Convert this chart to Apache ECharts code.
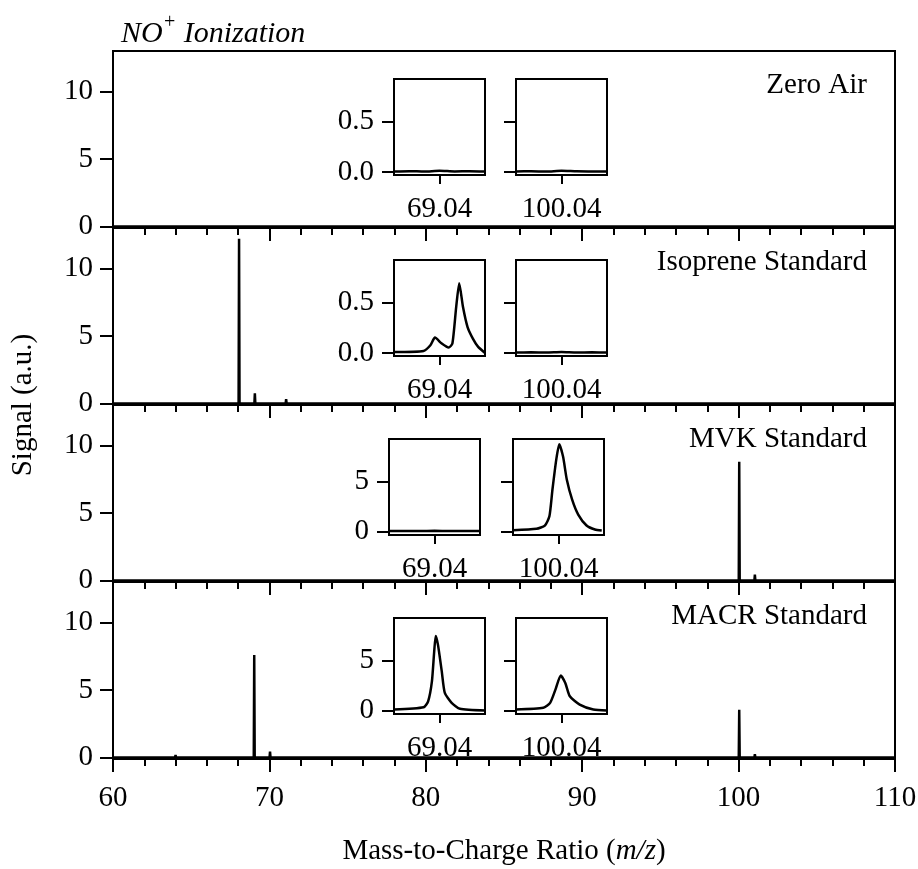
<!DOCTYPE html>
<html>
<head>
<meta charset="utf-8" />
<title>NO+ Ionization</title>
<script src="https://cdn.jsdelivr.net/npm/echarts@6.0.0/dist/echarts.min.js"></script>
<style>
  html, body { margin: 0; padding: 0; background: #fff; }
</style>
</head>
<body>
<div id="grafico" style="width: 918px; height: 869px"></div>
<script>
// panel names, top to bottom
const panelNames = ["Zero Air", "Isoprene Standard", "MVK Standard", "MACR Standard"];

// main spectra [m/z, signal]
const zeroAirSpec = [[60, 0.02], [63.97, 0.02], [64.0, 0.1], [64.03, 0.02], [110, 0.02]];
const isopreneSpec = [
  [60, 0.02], [63.97, 0.02], [64.0, 0.12], [64.03, 0.02],
  [67.02, 0.02], [67.05, 0.15], [67.08, 0.02],
  [68.03, 0.02], [68.06, 12.2], [68.09, 0.02],
  [69.04, 0.02], [69.07, 0.76], [69.1, 0.02],
  [70.04, 0.02], [70.07, 0.15], [70.1, 0.02],
  [71.04, 0.02], [71.07, 0.34], [71.1, 0.02],
  [110, 0.02]
];
const mvkSpec = [
  [60, 0.02], [63.97, 0.02], [64.0, 0.12], [64.03, 0.02],
  [100.01, 0.02], [100.04, 8.8], [100.07, 0.02],
  [101.01, 0.02], [101.04, 0.45], [101.07, 0.02],
  [110, 0.02]
];
const macrSpec = [
  [60, 0.02], [63.97, 0.02], [64.0, 0.2], [64.03, 0.02],
  [69.0, 0.02], [69.03, 7.6], [69.06, 0.02],
  [70.01, 0.02], [70.04, 0.45], [70.07, 0.02],
  [100.01, 0.02], [100.04, 3.55], [100.07, 0.02],
  [101.01, 0.02], [101.04, 0.25], [101.07, 0.02],
  [110, 0.02]
];

// inset centres and tick values
const insetCenters = [69.04, 100.04];
const smallTicks = [0, 0.5];
const bigTicks = [0, 5];
const mainTicks = [0, 5, 10];

// inset traces [m/z, signal]
const zeroInset69 = [[68.98, 0.005], [69.0, 0.008], [69.02, 0.004], [69.04, 0.012], [69.06, 0.005], [69.08, 0.007], [69.1, 0.004]];
const zeroInset100 = [[99.98, 0.005], [100.0, 0.007], [100.02, 0.004], [100.04, 0.012], [100.06, 0.006], [100.08, 0.005], [100.1, 0.004]];
const isoInset69 = [
  [68.98, 0.01], [69.019, 0.02], [69.028, 0.076], [69.034, 0.152], [69.043, 0.093],
  [69.052, 0.053], [69.057, 0.093], [69.062, 0.454], [69.066, 0.69], [69.071, 0.454],
  [69.077, 0.256], [69.084, 0.142], [69.091, 0.06], [69.1, 0.0]
];
const isoInset100 = [[99.98, 0.005], [100.0, 0.006], [100.02, 0.005], [100.04, 0.01], [100.06, 0.005], [100.08, 0.006], [100.1, 0.004]];
const mvkInset69 = [[68.98, 0.05], [69.0, 0.06], [69.02, 0.05], [69.04, 0.07], [69.06, 0.05], [69.08, 0.06], [69.1, 0.05]];
const mvkInset100 = [
  [99.98, 0.13], [100.011, 0.27], [100.022, 0.6], [100.028, 1.53], [100.032, 4.2],
  [100.037, 7.2], [100.041, 8.77], [100.046, 7.53], [100.051, 5.2], [100.058, 3.2],
  [100.066, 1.7], [100.077, 0.6], [100.088, 0.2], [100.097, 0.1]
];
const macrInset69 = [
  [68.98, 0.1], [69.019, 0.33], [69.025, 0.93], [69.03, 2.93], [69.033, 5.93],
  [69.035, 7.5], [69.038, 6.6], [69.043, 3.93], [69.047, 1.77], [69.056, 0.77],
  [69.067, 0.17], [69.1, 0.0]
];
const macrInset100 = [
  [99.98, 0.1], [100.016, 0.27], [100.025, 0.77], [100.032, 2.1], [100.039, 3.53],
  [100.045, 2.77], [100.051, 1.43], [100.064, 0.6], [100.082, 0.1], [100.1, 0.0]
];

const spectra = [zeroAirSpec, isopreneSpec, mvkSpec, macrSpec];
const insets = [
  [zeroInset69, zeroInset100],
  [isoInset69, isoInset100],
  [mvkInset69, mvkInset100],
  [macrInset69, macrInset100]
];

function criarGrafico() {
  const FONT = '"Liberation Serif", "Times New Roman", serif';
  const FS = 29;
  const black = "#000";

  const panelTop = [51, 228, 405, 582];
  const panelH = 177;
  const insetPos = [
    [[394, 79], [516, 79]],
    [[394, 260], [516, 260]],
    [[389, 439], [513, 439]],
    [[394, 618], [516, 618]]
  ];
  const insetW = 91, insetH = 96;

  const grids = [], xAxes = [], yAxes = [], series = [];
  const line = {color: black, width: 2};

  for (let i = 0; i < 4; i++) {
    const g = grids.length;
    grids.push({
      left: 113, width: 782, top: panelTop[i], height: panelH,
      show: true, borderColor: black, borderWidth: 2, backgroundColor: "transparent",
      containLabel: false, outerBoundsMode: "none"
    });
    xAxes.push({
      gridIndex: g, type: "value", min: 60, max: 110, interval: 10,
      axisLine: {show: true, onZero: false, lineStyle: line},
      axisTick: {show: true, inside: false, length: 13, lineStyle: line},
      minorTick: {show: true, splitNumber: 5, length: 7, lineStyle: line},
      splitLine: {show: false}, minorSplitLine: {show: false},
      axisLabel: {show: i === 3, margin: 25, color: black, fontFamily: FONT, fontSize: FS}
    });
    yAxes.push({
      gridIndex: g, type: "value", min: -0.1, max: 13,
      axisLine: {show: true, onZero: false, lineStyle: line},
      axisTick: {show: true, inside: false, length: 13, lineStyle: line, customValues: mainTicks},
      axisLabel: {show: true, customValues: mainTicks, margin: 20, color: black, fontFamily: FONT, fontSize: FS},
      splitLine: {show: false}
    });
    series.push({
      type: "line", xAxisIndex: g, yAxisIndex: g, data: spectra[i],
      showSymbol: false, silent: true, animation: false,
      lineStyle: {color: black, width: 2.5}
    });

    for (let j = 0; j < 2; j++) {
      const k = grids.length;
      const c = insetCenters[j];
      const small = i < 2;
      const ticks = small ? smallTicks : bigTicks;
      grids.push({
        left: insetPos[i][j][0], top: insetPos[i][j][1], width: insetW, height: insetH,
        show: true, borderColor: black, borderWidth: 2, backgroundColor: "#fff",
        containLabel: false, outerBoundsMode: "none"
      });
      xAxes.push({
        gridIndex: k, type: "value", min: c - 0.06, max: c + 0.06,
        axisLine: {show: true, onZero: false, lineStyle: line},
        axisTick: {show: true, inside: false, length: 9, lineStyle: line, customValues: [c]},
        axisLabel: {
          show: true, customValues: [c], margin: 20, color: black, fontFamily: FONT, fontSize: FS,
          formatter: v => v.toFixed(2)
        },
        splitLine: {show: false}
      });
      yAxes.push({
        gridIndex: k, type: "value",
        min: small ? -0.03 : -0.35, max: small ? 0.92 : 9.3,
        axisLine: {show: true, onZero: false, lineStyle: line},
        axisTick: {show: true, inside: false, length: 12, lineStyle: line, customValues: ticks},
        axisLabel: {
          show: j === 0, customValues: ticks, margin: 20, color: black, fontFamily: FONT, fontSize: FS,
          formatter: v => small ? v.toFixed(1) : String(v)
        },
        splitLine: {show: false}
      });
      series.push({
        type: "line", xAxisIndex: k, yAxisIndex: k, data: insets[i][j],
        showSymbol: false, silent: true, animation: false, smooth: 0.2,
        lineStyle: {color: black, width: 2.5}
      });
    }
  }

  const graphics = panelNames.map((name, i) => ({
    type: "text", x: 867, y: panelTop[i] + 34,
    style: {text: name, fill: black, font: FS + "px " + FONT, textAlign: "right", textVerticalAlign: "middle"}
  }));
  graphics.push({
    type: "text", x: 23, y: 405, rotation: Math.PI / 2,
    style: {text: "Signal (a.u.)", fill: black, font: FS + "px " + FONT, textAlign: "center", textVerticalAlign: "middle"}
  });
  graphics.push({
    type: "text", x: 504, y: 851,
    style: {
      text: "{n|Mass-to-Charge Ratio (}{i|m/z}{n|)}", textAlign: "center", textVerticalAlign: "middle",
      rich: {
        n: {fontFamily: FONT, fontSize: FS, fill: black},
        i: {fontFamily: FONT, fontSize: FS, fontStyle: "italic", fill: black}
      }
    }
  });

  const chart = echarts.init(document.getElementById("grafico"));
  chart.setOption({
    animation: false,
    backgroundColor: "#fff",
    title: {
      text: "{a|NO}{s|+}{a| Ionization}",
      left: 121, top: 13, padding: 0,
      textStyle: {
        fontWeight: "normal",
        rich: {
          a: {fontFamily: FONT, fontSize: 30, fontStyle: "italic", fontWeight: "normal", color: black},
          s: {fontFamily: FONT, fontSize: 20, fontStyle: "italic", fontWeight: "normal", color: black, padding: [0, 0, 22, 0]}
        }
      }
    },
    grid: grids,
    xAxis: xAxes,
    yAxis: yAxes,
    series: series,
    graphic: graphics
  });
}

window.onload = criarGrafico;
</script>
</body>
</html>
